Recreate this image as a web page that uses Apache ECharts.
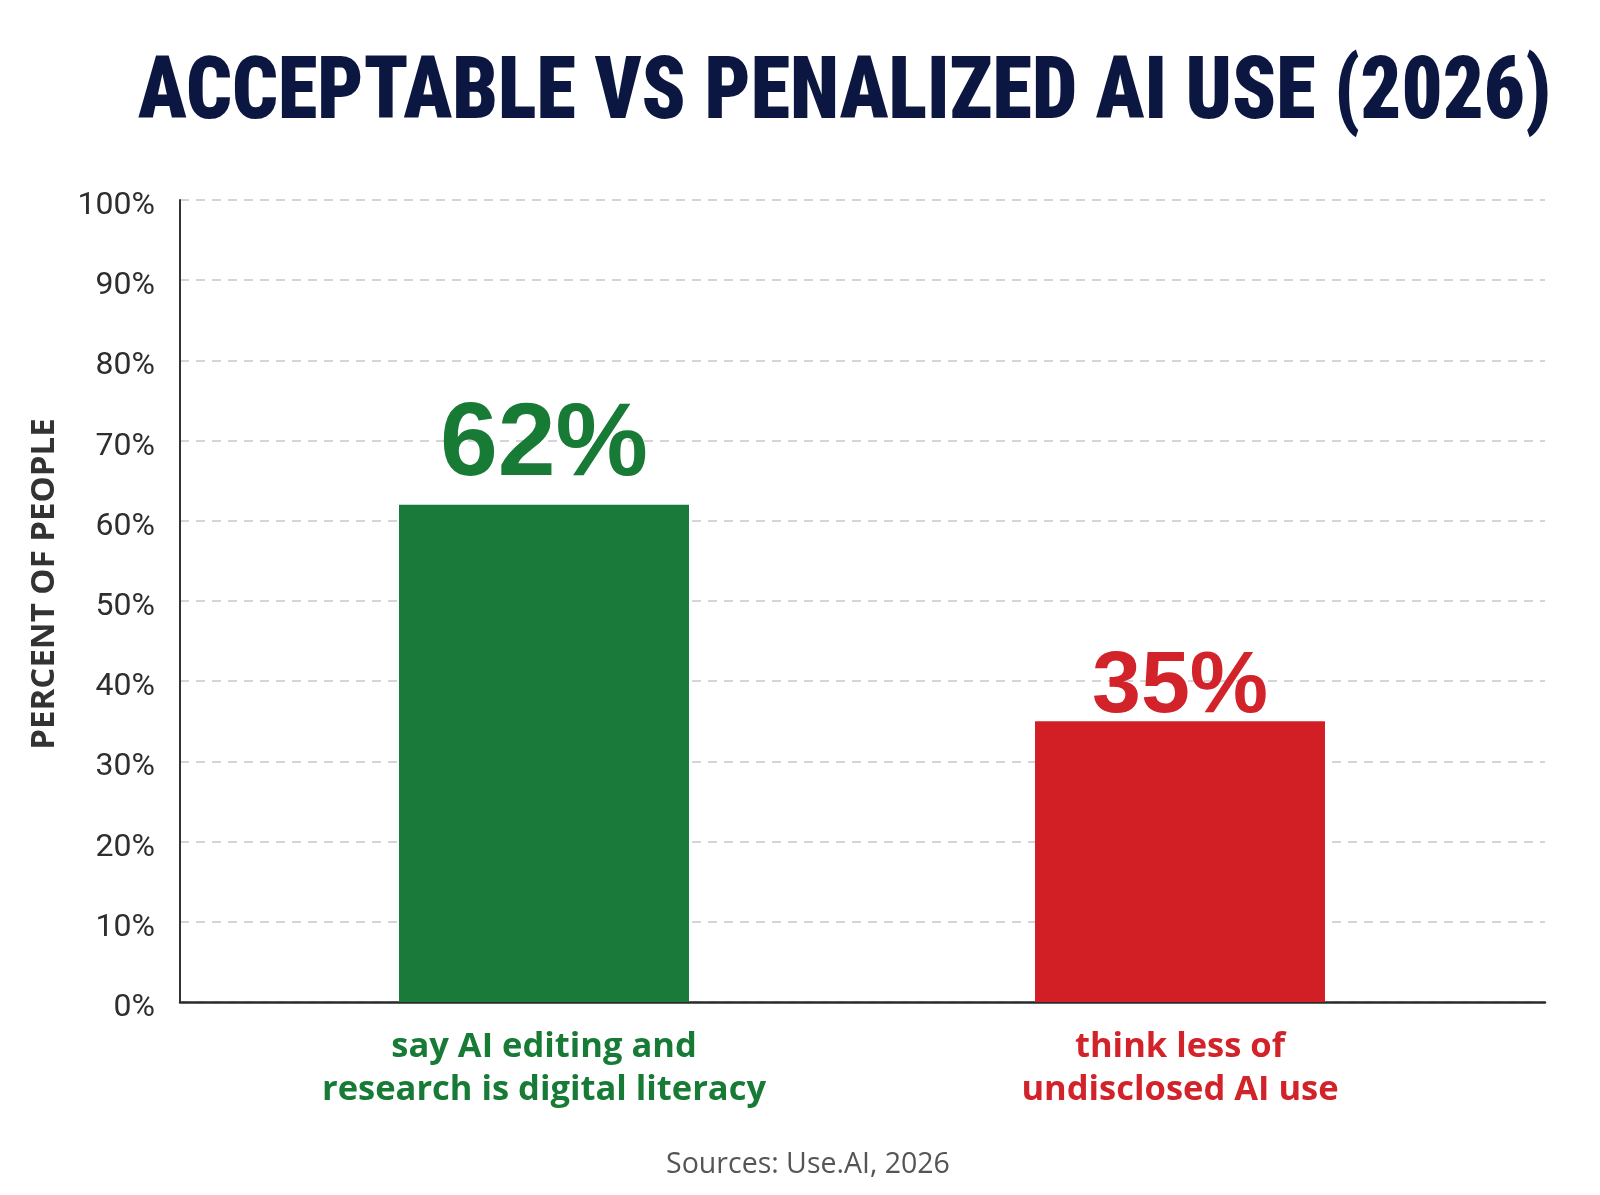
<!DOCTYPE html>
<html>
<head>
<meta charset="utf-8">
<script src="https://cdn.jsdelivr.net/npm/echarts@6/dist/echarts.min.js"></script>
<style>
html,body{margin:0;padding:0;background:#fff;}
#chart{width:1600px;height:1195px;}
</style>
</head>
<body>
<div id="chart"></div>
<script>
const titleText = 'ACCEPTABLE VS PENALIZED AI USE (2026)';
const sourceText = 'Sources: Use.AI, 2026';
const yAxisTitle = 'PERCENT OF PEOPLE';
const categories = ['say AI editing and\nresearch is digital literacy', 'think less of\nundisclosed AI use'];
const values = [62, 35];
const barColors = ['#197a3a', '#d21f25'];
const labelColors = ['#177a35', '#d2232a'];
const yMin = 0, yMax = 100, yStep = 10;

const titleFont = '900 88px "Liberation Sans Narrow", "Roboto Condensed", "DejaVu Sans Condensed", "Liberation Sans", sans-serif';
const ctx = document.createElement('canvas').getContext('2d');
ctx.font = titleFont;
const titleW = ctx.measureText(titleText).width;
const titleScale = 1413 / titleW;

const chart = echarts.init(document.getElementById('chart'), null, {renderer: 'canvas'});

const gridTop = 200, gridBottom = 193;

chart.setOption({
  backgroundColor: '#ffffff',
  animation: false,
  title: [{
    text: sourceText,
    left: 803,
    textAlign: 'center',
    top: 1145,
    textStyle: {fontFamily: '"Open Sans", Lato, sans-serif', fontWeight: 'normal', fontSize: 28.5, color: '#555555'}
  }],
  graphic: [{
    type: 'text',
    x: 138,
    y: 96,
    scaleX: titleScale,
    style: {
      text: titleText,
      font: titleFont,
      fill: '#0c1741',
      textAlign: 'left',
      textVerticalAlign: 'middle'
    }
  }],
  grid: [
    {left: 180, right: 55, top: gridTop, bottom: gridBottom, containLabel: false},
    {left: 226, right: 102, top: gridTop, bottom: gridBottom, containLabel: false}
  ],
  xAxis: [
    {
      gridIndex: 0, type: 'category', data: categories,
      axisLine: {show: true, lineStyle: {color: '#2b2b2b', width: 2.5}},
      axisTick: {show: false}, axisLabel: {show: false}, splitLine: {show: false}
    },
    {
      gridIndex: 1, type: 'category', data: categories,
      axisLine: {show: false}, axisTick: {show: false},
      axisLabel: {
        show: true, interval: 0, margin: 24,
        fontFamily: '"Open Sans", Lato, sans-serif', fontWeight: 'bold', fontSize: 34.5, lineHeight: 43,
        color: function (v, i) { return labelColors[i]; }
      }
    }
  ],
  yAxis: [
    {
      gridIndex: 0, type: 'value', min: yMin, max: yMax, interval: yStep,
      name: yAxisTitle, nameLocation: 'middle', nameGap: 119,
      nameTextStyle: {fontFamily: '"Open Sans", Lato, sans-serif', fontWeight: 'bold', fontSize: 33, color: '#333333', padding: [0, 0, 0, 34]},
      axisLine: {show: true, lineStyle: {color: '#333333', width: 2}},
      axisTick: {show: false},
      axisLabel: {
        margin: 25, fontSize: 32, color: '#2e2e2e',
        fontFamily: 'Roboto, "Open Sans", sans-serif',
        verticalAlign: 'top', lineHeight: 12,
        formatter: '{value}%'
      },
      splitLine: {show: true, lineStyle: {color: '#c8c8c8', width: 1.5, type: [9, 7]}}
    },
    {
      gridIndex: 1, type: 'value', min: yMin, max: yMax, interval: yStep,
      axisLine: {show: false}, axisTick: {show: false}, axisLabel: {show: false}, splitLine: {show: false}
    }
  ],
  series: [{
    type: 'bar',
    xAxisIndex: 1, yAxisIndex: 1,
    barWidth: 290,
    data: values.map((v, i) => ({
      value: v,
      itemStyle: {color: barColors[i]},
      label: {
        color: labelColors[i],
        fontSize: i === 0 ? 104 : 88,
        distance: i === 0 ? 6 : -10
      }
    })),
    label: {
      show: true, position: 'top',
      fontFamily: '"Liberation Sans", Arial, sans-serif', fontWeight: 'bold',
      formatter: '{c}%'
    }
  }]
});
</script>
</body>
</html>
